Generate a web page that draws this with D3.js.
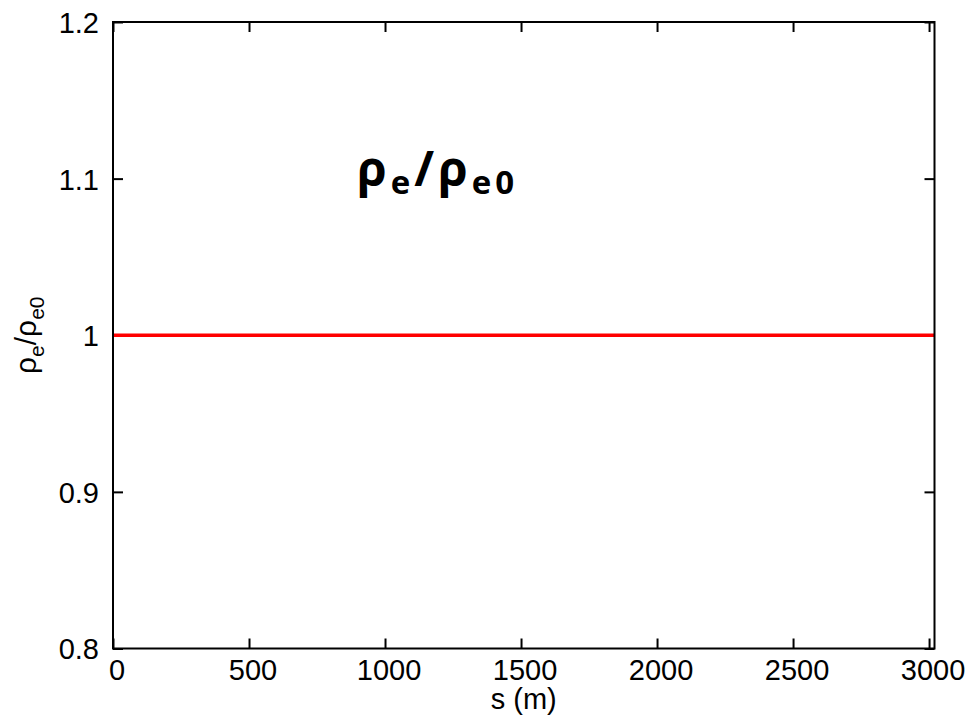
<!DOCTYPE html>
<html>
<head>
<meta charset="utf-8">
<script src="https://cdn.jsdelivr.net/npm/d3@7"></script>
<style>
  body { margin: 0; background: #fff; }
  svg text { font-family: "Liberation Sans", Arial, sans-serif; fill: #000; }
  .title text { font-family: "Open Sans", "Noto Sans", sans-serif; font-weight: bold; }
</style>
</head>
<body>
<div id="chart"></div>
<script>
// Data
var s_values = [0, 3020];
var rho_ratio = [1, 1];
var x_ticks = [0, 500, 1000, 1500, 2000, 2500, 3000];
var y_ticks = [0.8, 0.9, 1.0, 1.1, 1.2];
var x_domain = [0, 3020];
var y_domain = [0.8, 1.2];

// Variables
var chart_width = 973;
var chart_height = 718;
var margin = { left: 113, right: 38.5, top: 22, bottom: 69.5 };
var tick_len = 10;

var svg = d3.select("#chart")
  .append("svg")
  .attr("width", chart_width)
  .attr("height", chart_height);

// Scales
var x_scale = d3.scaleLinear()
  .domain(x_domain)
  .range([margin.left, chart_width - margin.right]);

var y_scale = d3.scaleLinear()
  .domain(y_domain)
  .range([chart_height - margin.bottom, margin.top]);

var x0 = x_scale.range()[0], x1 = x_scale.range()[1];
var y0 = y_scale.range()[0], y1 = y_scale.range()[1];

// Axes (ticks point inward, mirrored on top and right)
var bottom_axis = d3.axisBottom(x_scale).tickValues(x_ticks).tickSizeInner(-tick_len).tickSizeOuter(0).tickPadding(0).tickFormat(d3.format("d"));
var top_axis = d3.axisTop(x_scale).tickValues(x_ticks).tickSizeInner(-tick_len).tickSizeOuter(0).tickFormat("");
var left_axis = d3.axisLeft(y_scale).tickValues(y_ticks).tickSizeInner(-tick_len).tickSizeOuter(0).tickPadding(0)
  .tickFormat(function(d){ return d === 1 ? "1" : d3.format(".1f")(d); });
var right_axis = d3.axisRight(y_scale).tickValues(y_ticks).tickSizeInner(-tick_len).tickSizeOuter(0).tickFormat("");

function style_axis(g) {
  g.select(".domain").remove();
  g.selectAll(".tick line").attr("stroke", "#000").attr("stroke-width", 2);
}

svg.append("g").attr("transform", "translate(0," + y0 + ")").call(bottom_axis).call(style_axis)
  .selectAll("text").attr("font-size", 29).attr("dy", null).attr("y", 31).attr("dx", 3.5)
  .style("font-family", "'Liberation Sans', Arial, sans-serif");
svg.append("g").attr("transform", "translate(0," + y1 + ")").call(top_axis).call(style_axis);
svg.append("g").attr("transform", "translate(" + x0 + ",0)").call(left_axis).call(style_axis)
  .selectAll("text").attr("font-size", 29).attr("x", -14).attr("dy", "0.36em")
  .style("font-family", "'Liberation Sans', Arial, sans-serif");
svg.append("g").attr("transform", "translate(" + x1 + ",0)").call(right_axis).call(style_axis);

// Line
var line = d3.line()
  .x(function(d, i){ return x_scale(s_values[i]); })
  .y(function(d){ return y_scale(d); });

svg.append("path")
  .datum(rho_ratio)
  .attr("d", line)
  .attr("fill", "none")
  .attr("stroke", "#ff0000")
  .attr("stroke-width", 3.5);

// Frame
svg.append("rect")
  .attr("x", x0).attr("y", y1)
  .attr("width", x1 - x0).attr("height", y0 - y1)
  .attr("fill", "none").attr("stroke", "#000").attr("stroke-width", 2);

// Axis labels
svg.append("text")
  .attr("x", (x0 + x1) / 2)
  .attr("y", 709)
  .attr("text-anchor", "middle")
  .attr("font-size", 29)
  .text("s (m)");

var ylab = svg.append("text")
  .attr("transform", "translate(36," + y_scale(1) + ") rotate(-90)")
  .attr("text-anchor", "middle")
  .attr("font-size", 30);
ylab.append("tspan").text("ρ");
ylab.append("tspan").attr("font-size", 21).attr("dy", 8).text("e");
ylab.append("tspan").attr("dy", -8).text("/ρ");
ylab.append("tspan").attr("font-size", 21).attr("dy", 8).text("e0");

// Title inside plot
var title = svg.append("g").attr("class", "title").append("text")
  .attr("x", 357)
  .attr("y", 186)
  .attr("font-size", 48)
  .attr("letter-spacing", 4);
title.append("tspan").text("ρ");
title.append("tspan").attr("font-size", 33).attr("dy", 8).text("e");
title.append("tspan").attr("dy", -8).text("/ρ");
title.append("tspan").attr("font-size", 33).attr("dy", 8).text("e0");
</script>
</body>
</html>
